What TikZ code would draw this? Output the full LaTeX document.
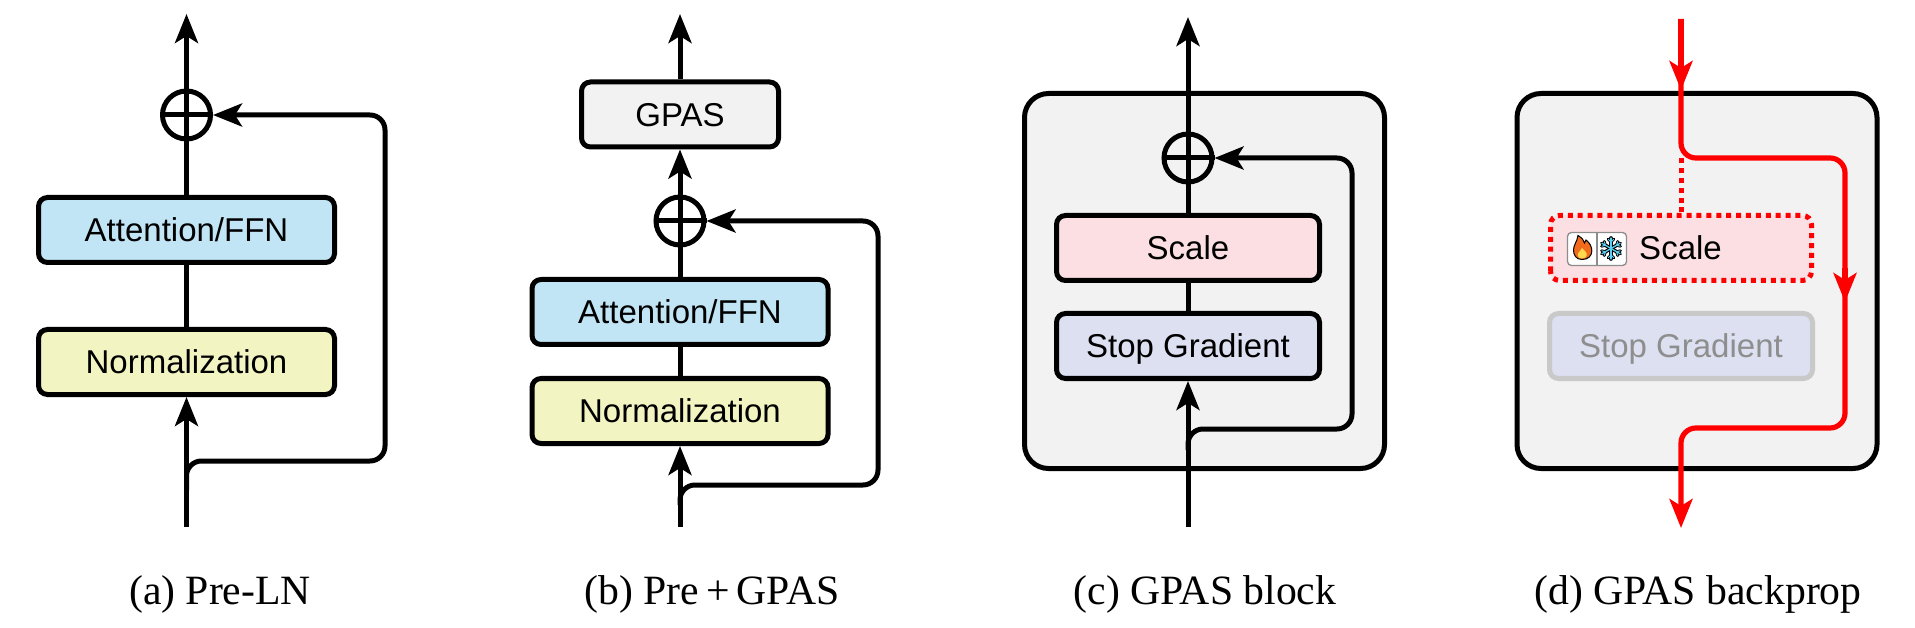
\documentclass[tikz,border=0pt]{standalone}
\usepackage{fontspec}
\setmainfont{Liberation Serif}
\newfontfamily\boxfont{Liberation Sans}
\usetikzlibrary{arrows.meta}
\definecolor{cblue}{HTML}{C1E5F5}
\definecolor{cyellow}{HTML}{F2F4C2}
\definecolor{cgray}{HTML}{F2F2F2}
\definecolor{cpink}{HTML}{FBDFE2}
\definecolor{clav}{HTML}{DCE0F0}
\definecolor{cdim}{HTML}{C9C9C9}
\definecolor{cdimtext}{HTML}{8E8E8E}
\definecolor{cflame}{HTML}{F26A1B}
\definecolor{cyolk}{HTML}{FFD84D}
\definecolor{cice}{HTML}{5CD0F0}
\tikzset{
  x=1pt,y=-1pt,
  conn/.style={line width=5pt,draw=black},
  tipped/.style={-{Stealth[length=29pt,width=23pt,inset=7pt]}},
  softturn/.style={rounded corners=15pt},
  redconn/.style={line width=5.2pt,draw=red},
  boxfontsize/.style={font=\boxfont\fontsize{33pt}{36pt}\selectfont,text height=23.5pt,text depth=0pt},
  blockbox/.style={draw=black,line width=5pt,rounded corners=9pt,inner sep=0pt,
    minimum height=65pt,boxfontsize},
  widea/.style={blockbox,minimum width=296pt},
  wideb/.style={blockbox,minimum width=263pt},
  panelbox/.style={draw=black,line width=5pt,rounded corners=24pt,fill=cgray,inner sep=0pt,
    minimum width=360pt,minimum height=375pt},
  adder/.style={circle,draw=black,line width=5pt,minimum size=48pt,inner sep=0pt},
  crossbar/.style={line width=5pt,draw=black},
  captext/.style={inner sep=0pt,anchor=base,font=\fontsize{41.7pt}{46pt}\selectfont},
  dotline/.style={draw=red,line width=5pt,dash pattern=on 5pt off 4.9pt},
}
\newcommand{\crossin}[1]{\draw[crossbar] (#1.north) -- (#1.south) (#1.west) -- (#1.east);}
\begin{document}
\begin{tikzpicture}
\useasboundingbox (0,0) rectangle (1915,628);

% ---------- (a)
\node[widea,fill=cblue] (aattn) at (186.5,230) {Attention/FFN};
\node[widea,fill=cyellow] (anorm) at (186.5,362) {Normalization};
\node[adder] (aadd) at (186.5,115) {};
\coordinate (atop) at (186.5,14);
\coordinate (ain) at (186.5,527);
\coordinate (asplit) at (186.5,490);
\coordinate (aright) at (385,461);
\crossin{aadd}
\draw[conn,tipped] (ain) -- (anorm.south);
\draw[conn] (anorm.north) -- (aattn.south);
\draw[conn] (aattn.north) -- (aadd.south);
\draw[conn,tipped] (aadd.north) -- (atop);
\draw[conn,softturn,tipped] (asplit) |- (aright) |- (aadd.east);
\node[captext] (acap) at (220,604) {(a) Pre-LN};

% ---------- (b)
\node[blockbox,minimum width=197pt,fill=cgray] (bgpas) at (680,114.5) {GPAS};
\node[widea,fill=cblue] (battn) at (680,312) {Attention/FFN};
\node[widea,fill=cyellow] (bnorm) at (680,411) {Normalization};
\node[adder] (badd) at (680,221) {};
\coordinate (btop) at (680,14);
\coordinate (bin) at (680,527);
\coordinate (bsplit) at (680,505);
\coordinate (bright) at (878,485);
\crossin{badd}
\draw[conn,tipped] (bin) -- (bnorm.south);
\draw[conn] (bnorm.north) -- (battn.south);
\draw[conn] (battn.north) -- (badd.south);
\draw[conn,tipped] (badd.north) -- (bgpas.south);
\draw[conn,tipped] (bgpas.north) -- (btop);
\draw[conn,softturn,tipped] (bsplit) |- (bright) |- (badd.east);
\node[captext] (bcap) at (712,604) {(b) Pre\,+\,GPAS};

% ---------- (c)
\node[panelbox] (cpanel) at (1204.5,281) {};
\node[wideb,fill=cpink] (cscale) at (1188,248) {Scale};
\node[wideb,fill=clav] (cstop) at (1188,346) {Stop Gradient};
\node[adder] (cadd) at (1188,158) {};
\coordinate (ctop) at (1188,17);
\coordinate (cin) at (1188,527);
\coordinate (csplit) at (1188,450);
\coordinate (cright) at (1352,429);
\crossin{cadd}
\draw[conn,tipped] (cin) -- (cstop.south);
\draw[conn] (cstop.north) -- (cscale.south);
\draw[conn] (cscale.north) -- (cadd.south);
\draw[conn,tipped] (cadd.north) -- (ctop);
\draw[conn,softturn,tipped] (csplit) |- (cright) |- (cadd.east);
\node[captext] (ccap) at (1205,604) {(c) GPAS block};

% ---------- (d)
\node[panelbox] (dpanel) at (1697,281) {};
\node[wideb,fill=cpink,draw=none,outer sep=0pt,minimum width=261pt,minimum height=65pt] (dscale) at (1681,248) {};
\draw[dotline,rounded corners=9pt] (dscale.south west) rectangle (dscale.north east);
\node[wideb,fill=clav,draw=cdim,text=cdimtext] (dstop) at (1681,346) {Stop Gradient};
\node[inner sep=0pt,boxfontsize] (dtext) at (1680.5,248) {Scale};
\node[draw=black!45,line width=1.3pt,fill=white,rounded corners=4pt,minimum width=59pt,minimum height=33pt,inner sep=0pt] (dicons) at (1597,249) {};
\draw[black!45,line width=1.3pt] (dicons.north) -- (dicons.south);
% flame
\fill[cflame,draw=black,line width=1pt] (1582,259.5)
  .. controls (1576,259.5) and (1573.5,255) .. (1573.5,250)
  .. controls (1573.5,245) and (1577,242) .. (1578,235.5)
  .. controls (1582,238) and (1584,240) .. (1584.5,243)
  .. controls (1585.5,242) and (1586,241) .. (1586,240)
  .. controls (1590,243) and (1591.8,247) .. (1591.8,251)
  .. controls (1591.8,256) and (1588,259.5) .. (1582,259.5) -- cycle;
\fill[cyolk] (1582,258.5)
  .. controls (1578.5,258.5) and (1577,256) .. (1578,253.5)
  .. controls (1579,251.5) and (1581,250.5) .. (1582,248)
  .. controls (1584,250) and (1587,252.5) .. (1586.8,255)
  .. controls (1586.5,257) and (1585,258.5) .. (1582,258.5) -- cycle;
% snowflake
\foreach \a in {0,60,...,300}{
  \draw[black,line width=3.6pt,line cap=round] (1611,248.5) -- ++(\a+30:10.5);
  \draw[black,line width=2.8pt,line cap=round] (1611,248.5) ++(\a+30:6.5) -- ++(\a+75:4);
  \draw[black,line width=2.8pt,line cap=round] (1611,248.5) ++(\a+30:6.5) -- ++(\a-15:4);
}
\foreach \a in {0,60,...,300}{
  \draw[cice,line width=1.3pt,line cap=round] (1611,248.5) -- ++(\a+30:10.5);
  \draw[cice,line width=1pt,line cap=round] (1611,248.5) ++(\a+30:6.5) -- ++(\a+75:3.6);
  \draw[cice,line width=1pt,line cap=round] (1611,248.5) ++(\a+30:6.5) -- ++(\a-15:3.6);
}
\coordinate (dtop) at (1681,19);
\coordinate (dhead) at (1681,90);
\coordinate (dturn) at (1681,158);
\coordinate (dupper) at (1845,158);
\coordinate (dstub) at (1845,268);
\coordinate (dmid) at (1845,302);
\coordinate (dlower) at (1845,428);
\coordinate (dback) at (1681,428);
\coordinate (dend) at (1681,528);
\draw[dotline] (dturn) -- (dscale.north);
\draw[redconn,softturn,tipped] (dtop) -- (dturn) -- (dupper) -- (dlower) -- (dback) -- (dend);
\draw[redconn,tipped] (dtop) -- (dhead);
\draw[redconn,tipped] (dstub) -- (dmid);
\node[captext] (dcap) at (1698,604) {(d) GPAS backprop};
\end{tikzpicture}
\end{document}
